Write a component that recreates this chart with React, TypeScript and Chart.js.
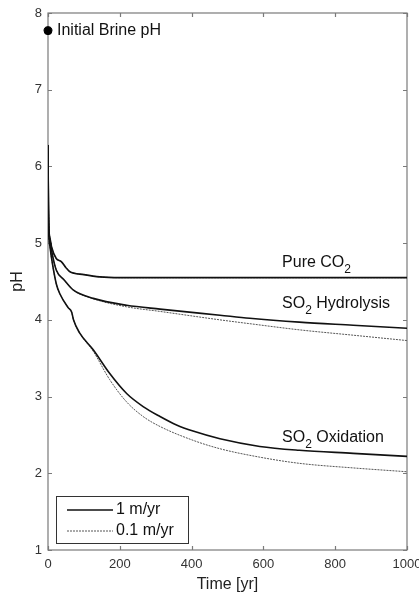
import { useEffect, useRef } from "react";
import { Chart, registerables } from "chart.js";

Chart.register(...registerables);

// ---- data (time in years, pH) ----
const tCO2 = [0, 1, 3, 5, 10, 23, 37, 50, 60, 100, 144, 200, 400, 600, 800, 1000];
const phCO2Fast = [6.28, 5.6, 5.15, 5.08, 4.95, 4.8, 4.76, 4.68, 4.63, 4.59, 4.56, 4.55, 4.55, 4.55, 4.55, 4.55];
const phCO2Slow = [6.28, 5.6, 5.15, 5.08, 4.95, 4.8, 4.76, 4.68, 4.63, 4.59, 4.56, 4.55, 4.55, 4.55, 4.55, 4.55];

const tHyd = [0, 1, 3, 5, 10, 23, 45, 70, 126, 219, 312, 479, 562, 700, 850, 1000];
const phHydFast = [6.28, 5.5, 5.08, 5.04, 4.9, 4.65, 4.52, 4.39, 4.28, 4.19, 4.14, 4.06, 4.02, 3.97, 3.93, 3.89];
const phHydSlow = [6.28, 5.5, 5.08, 5.04, 4.9, 4.65, 4.52, 4.39, 4.275, 4.17, 4.11, 4.0, 3.95, 3.87, 3.8, 3.73];

const tOxFast = [0, 1, 3, 5, 10, 23, 33, 56, 66, 71, 88, 126, 172, 219, 265, 312, 358, 404, 479, 590, 700, 850, 1000];
const phOxFast = [6.28, 5.5, 5.05, 4.97, 4.8, 4.47, 4.34, 4.16, 4.1, 4.0, 3.83, 3.61, 3.3, 3.04, 2.87, 2.74, 2.63, 2.55, 2.45, 2.35, 2.3, 2.26, 2.22];
const tOxSlow = [0, 1, 3, 5, 10, 23, 33, 56, 66, 71, 88, 126, 172, 219, 265, 312, 404, 479, 590, 700, 850, 1000];
const phOxSlow = [6.28, 5.5, 5.05, 4.97, 4.8, 4.47, 4.34, 4.16, 4.1, 4.0, 3.83, 3.59, 3.22, 2.93, 2.74, 2.61, 2.43, 2.32, 2.21, 2.13, 2.07, 2.02];

const initialBrine = { t: 0, ph: 7.77, label: "Initial Brine pH" };

const xTicks = [0, 200, 400, 600, 800, 1000];
const yTicks = [1, 2, 3, 4, 5, 6, 7, 8];

const curveNames = ["Pure CO", "SO", "SO"];
const curveSubs = ["2", "2", "2"];
const curveTails = ["", " Hydrolysis", " Oxidation"];
const curveLabelT = [652, 652, 652];
const curveLabelPh = [4.75, 4.21, 2.47];

const legendLabels = ["1 m/yr", "0.1 m/yr"];

const SOLID = "#111111";
const DOT = "#555555";
const FRAME = "#7a7a7a";
const FONT = "Liberation Sans, Arial, Helvetica, sans-serif";

const pts = (t: number[], p: number[]) => t.map((x, i) => ({ x, y: p[i] }));

const framePlugin = {
  id: "frameAndText",
  beforeDatasetsDraw(chart: any) {
    const { ctx, chartArea: a, scales } = chart;
    const xs = scales.x;
    const ys = scales.y;
    ctx.save();
    ctx.strokeStyle = FRAME;
    ctx.lineWidth = 1.2;
    ctx.strokeRect(a.left, a.top, a.right - a.left, a.bottom - a.top);
    const tl = 4;
    ctx.beginPath();
    xTicks.forEach((v) => {
      const px = Math.round(xs.getPixelForValue(v)) + 0.5;
      ctx.moveTo(px, a.bottom);
      ctx.lineTo(px, a.bottom - tl);
      ctx.moveTo(px, a.top);
      ctx.lineTo(px, a.top + tl);
    });
    yTicks.forEach((v) => {
      const py = Math.round(ys.getPixelForValue(v)) + 0.5;
      ctx.moveTo(a.left, py);
      ctx.lineTo(a.left + tl, py);
      ctx.moveTo(a.right, py);
      ctx.lineTo(a.right - tl, py);
    });
    ctx.stroke();
    ctx.restore();
  },
  afterDatasetsDraw(chart: any) {
    const { ctx, chartArea: a, scales } = chart;
    const xs = scales.x;
    const ys = scales.y;
    ctx.save();
    ctx.fillStyle = "#111";
    ctx.textBaseline = "middle";
    ctx.textAlign = "left";
    for (let i = 0; i < curveNames.length; i++) {
      let x = xs.getPixelForValue(curveLabelT[i]);
      const y = ys.getPixelForValue(curveLabelPh[i]);
      ctx.font = `16px ${FONT}`;
      ctx.fillText(curveNames[i], x, y);
      x += ctx.measureText(curveNames[i]).width;
      ctx.font = `12px ${FONT}`;
      ctx.fillText(curveSubs[i], x, y + 7);
      x += ctx.measureText(curveSubs[i]).width;
      ctx.font = `16px ${FONT}`;
      if (curveTails[i]) ctx.fillText(curveTails[i], x, y);
    }

    ctx.font = `16px ${FONT}`;
    ctx.fillText(initialBrine.label, xs.getPixelForValue(initialBrine.t) + 9, ys.getPixelForValue(initialBrine.ph));

    const lx = a.left + 8;
    const lw = 132;
    const lh = 47;
    const ly = a.bottom - 7 - lh;
    ctx.fillStyle = "#fff";
    ctx.fillRect(lx, ly, lw, lh);
    ctx.strokeStyle = "#333";
    ctx.lineWidth = 1;
    ctx.strokeRect(lx + 0.5, ly + 0.5, lw, lh);
    const rows = [ly + 14, ly + 35];
    rows.forEach((ry, i) => {
      ctx.beginPath();
      ctx.strokeStyle = i === 0 ? SOLID : DOT;
      ctx.lineWidth = i === 0 ? 1.6 : 1;
      ctx.setLineDash(i === 0 ? [] : [2, 1]);
      ctx.moveTo(lx + 11, ry);
      ctx.lineTo(lx + 57, ry);
      ctx.stroke();
      ctx.setLineDash([]);
      ctx.fillStyle = "#111";
      ctx.font = `16px ${FONT}`;
      ctx.fillText(legendLabels[i], lx + 60, ry);
    });
    ctx.restore();
  },
};

export default function App() {
  const ref = useRef<HTMLCanvasElement | null>(null);
  useEffect(() => {
    if (!ref.current) return;
    const solid = { borderColor: SOLID, borderWidth: 1.6, pointRadius: 0, cubicInterpolationMode: "monotone" as const, fill: false };
    const dotted = { borderColor: DOT, borderWidth: 1, borderDash: [2, 1], pointRadius: 0, cubicInterpolationMode: "monotone" as const, fill: false };
    const chart = new Chart(ref.current, {
      type: "line",
      data: {
        datasets: [
          { label: "Initial Brine pH", data: [{ x: initialBrine.t, y: initialBrine.ph }], showLine: false, pointRadius: 4, pointBackgroundColor: "#000", pointBorderColor: "#000", clip: false as any, order: 0 },
          { label: "Pure CO2 1 m/yr", data: pts(tCO2, phCO2Fast), ...solid, order: 1 },
          { label: "SO2 Hydrolysis 1 m/yr", data: pts(tHyd, phHydFast), ...solid, order: 1 },
          { label: "SO2 Oxidation 1 m/yr", data: pts(tOxFast, phOxFast), ...solid, order: 1 },
          { label: "Pure CO2 0.1 m/yr", data: pts(tCO2, phCO2Slow), ...dotted, order: 2 },
          { label: "SO2 Hydrolysis 0.1 m/yr", data: pts(tHyd, phHydSlow), ...dotted, order: 2 },
          { label: "SO2 Oxidation 0.1 m/yr", data: pts(tOxSlow, phOxSlow), ...dotted, order: 2 },
        ],
      },
      options: {
        animation: false,
        responsive: false,
        devicePixelRatio: 1,
        layout: { padding: { top: 13, right: 12, left: 0, bottom: 0 } },
        plugins: { legend: { display: false }, tooltip: { enabled: false } },
        scales: {
          x: {
            type: "linear",
            min: 0,
            max: 1000,
            grid: { display: false, drawTicks: false },
            border: { display: false },
            afterBuildTicks: (s: any) => { s.ticks = xTicks.map((v) => ({ value: v })); },
            ticks: { font: { family: FONT, size: 13 }, color: "#333", padding: 7, maxRotation: 0, callback: (v: any) => String(v) },
            title: { display: true, text: "Time [yr]", font: { family: FONT, size: 16 }, color: "#222", padding: { top: 0, bottom: 0 } },
            afterFit: (s: any) => { s.height = 44; s.paddingLeft = 0; s.paddingRight = 0; },
          },
          y: {
            type: "linear",
            min: 1,
            max: 8,
            grid: { display: false, drawTicks: false },
            border: { display: false },
            afterBuildTicks: (s: any) => { s.ticks = yTicks.map((v) => ({ value: v })); },
            ticks: { font: { family: FONT, size: 13 }, color: "#333", padding: 6, callback: (v: any) => String(v) },
            title: { display: true, text: "pH", font: { family: FONT, size: 16 }, color: "#222", padding: { top: 8, bottom: 0 } },
            afterFit: (s: any) => { s.width = 48; s.paddingTop = 0; s.paddingBottom = 0; },
          },
        },
      },
      plugins: [framePlugin],
    });
    return () => chart.destroy();
  }, []);
  return (
    <div style={{ position: "fixed", left: 0, top: 0, width: 419, height: 594, background: "#fff" }}>
      <canvas ref={ref} width={419} height={594} style={{ width: 419, height: 594, display: "block" }} />
    </div>
  );
}
